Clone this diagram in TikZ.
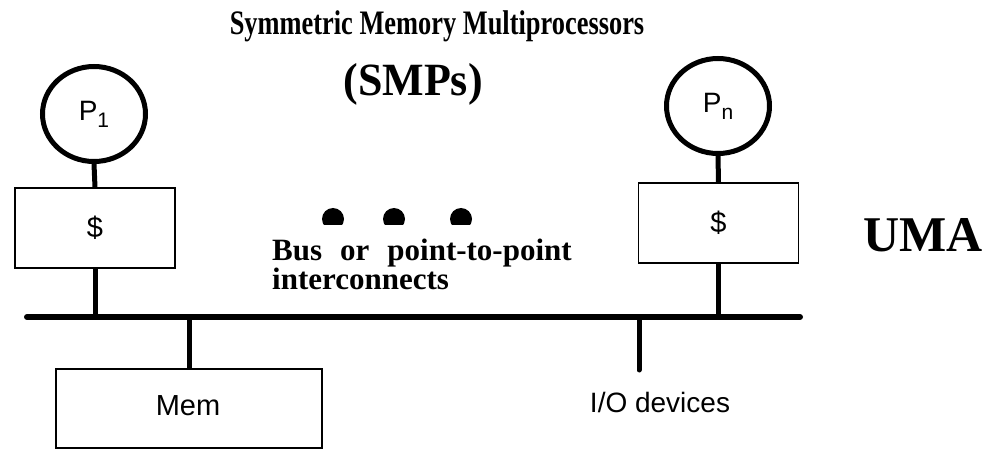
\documentclass[tikz,border=0pt]{standalone}
\usepackage{fontspec}
\setmainfont{Liberation Serif}
\setsansfont{Liberation Sans}
\usetikzlibrary{shapes.geometric}

\newcommand{\fsz}[1]{\fontsize{#1}{#1}\selectfont}
\newcommand{\procsub}[1]{\sffamily\fsz{28}P\raisebox{-7pt}{\fsz{21}#1}}

\tikzset{
  proc/.style={ellipse, draw, line width=5pt, minimum width=103pt, minimum height=95pt, inner sep=0pt},
  cachebox/.style={rectangle, draw, line width=1.5pt, minimum width=160pt, minimum height=80pt,
                   inner sep=0pt, font=\sffamily\fsz{29}},
  membox/.style={rectangle, draw, line width=1.5pt, minimum width=266pt, minimum height=79pt,
                 inner sep=0pt},
  link/.style={line width=5pt},
  busline/.style={line width=6pt, line cap=round},
  boldserif/.style={inner sep=0pt, font=\bfseries}
}

\begin{document}
\begin{tikzpicture}[x=1pt, y=-1pt]
  \useasboundingbox (0,0) rectangle (999,449);

  % headings
  \node[boldserif, anchor=base] (title) at (437,35)
    {\scalebox{0.8}[1.04]{\fsz{33}Symmetric Memory Multiprocessors}};
  \node[boldserif, anchor=base] (smps) at (413,96) {\scalebox{1}[1.05]{\fsz{44}(SMPs)}};
  \node[boldserif, anchor=base] (uma) at (923,252) {\fsz{50}UMA};

  % processors and caches
  \node[proc] (p1) at (94,114) {\procsub{1}};
  \node[proc] (pn) at (718,106) {\procsub{n}};
  \node[cachebox] (c1) at (95,228) {\$};
  \node[cachebox] (cn) at (718.5,223) {\$};

  % shared bus
  \coordinate (busL) at (27,317);
  \coordinate (busR) at (800,317);
  \draw[busline] (busL) -- (busR);

  % memory and I/O
  \node[membox] (mem) at (189,408.5) {};
  \node[inner sep=0pt, anchor=base, font=\sffamily\fsz{29}] (memlbl) at (188,415) {Mem};
  \coordinate (ioend) at (639,370);
  \node[inner sep=0pt, anchor=base, font=\sffamily\fsz{28}] (io) at (660,412) {I/O devices};

  % connections
  \draw[link] (p1.south) -- (c1.north);
  \draw[link] (c1.south) -- (c1.south |- busL);
  \draw[link] (pn.south) -- (cn.north);
  \draw[link] (cn.south) -- (cn.south |- busL);
  \draw[link] (mem.north) -- (mem.north |- busL);
  \draw[link, line cap=round] (ioend |- busL) -- (ioend);

  % ellipsis dots
  \begin{scope}
    \clip (0,190) rectangle (999,225);
    \fill (333,219) circle[radius=11];
    \fill (394,219) circle[radius=11];
    \fill (461,219) circle[radius=11];
  \end{scope}

  % interconnect label, two lines in one node (base = last line)
  \node[boldserif, anchor=base west, align=left,
        font=\bfseries\fontsize{31}{29}\selectfont] (buslbl) at (272,290)
    {Bus\hspace{18pt}or\hspace{18pt}point-to-point\\interconnects};
\end{tikzpicture}
\end{document}
